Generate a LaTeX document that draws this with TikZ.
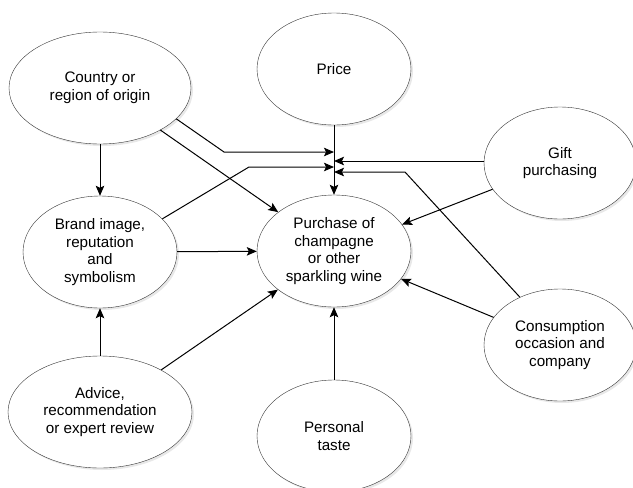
\documentclass[tikz,border=0pt]{standalone}
\usepackage{fontspec}
\setmainfont{Liberation Sans}
\usetikzlibrary{arrows.meta,shapes.geometric,shadows}
\begin{document}
\begin{tikzpicture}[x=1pt,y=-1pt]
  \tikzset{factor/.style={draw=black!80,ellipse,fill=white,inner sep=0pt,minimum width=154pt,minimum height=112pt,align=center,font=\fontsize{15.2}{17.5}\selectfont,drop shadow={opacity=0.18,shadow xshift=2pt,shadow yshift=-2pt}},
    link/.style={-{Stealth[length=10pt,width=8.5pt,inset=2pt]},line width=1pt}}
  \useasboundingbox (0,0) rectangle (633,488);

  \node [factor,minimum width=182pt] (country) at (100,88) {Country or\\region of origin};
  \node [factor] (price) at (334,69) {Price};
  \node [factor,minimum width=152pt] (gift) at (560,163) {Gift\\purchasing};
  \node [factor] (brand) at (100,252) {Brand image,\\reputation\\and\\symbolism};
  \node [factor] (purchase) at (334,251) {Purchase of\\champagne\\or other\\sparkling wine};
  \node [factor,minimum width=152pt] (consumption) at (560,345) {Consumption\\occasion and\\company};
  \node [factor,minimum width=184pt] (advice) at (100,412) {Advice,\\recommendation\\or expert review};
  \node [factor] (personal) at (334,436) {Personal\\taste};

  % arrow ends on the price line
  \coordinate (jcountry) at (334,152);
  \coordinate (jgift) at (334,161);
  \coordinate (jbrand) at (334,167);
  \coordinate (jconsumption) at (334,172);

  \draw[link] (price) -- (purchase);
  \draw[link] (country) -- (brand);
  \draw[link] (country) -- (purchase);
  \draw[link] (brand) -- (purchase);
  \draw[link] (advice) -- (brand);
  \draw[link] (advice) -- (purchase);
  \draw[link] (personal) -- (purchase);
  \draw[link] (gift) -- (purchase);
  \draw[link] (consumption) -- (purchase);
  \draw[link] (country.-22) -- (224,152) -- (jcountry);
  \draw[link] (brand.28) -- (249,167) -- (jbrand);
  \draw[link] (jgift -| gift.west) -- (jgift);
  \draw[link] (consumption.130) -- (405,172) -- (jconsumption);
\end{tikzpicture}
\end{document}
